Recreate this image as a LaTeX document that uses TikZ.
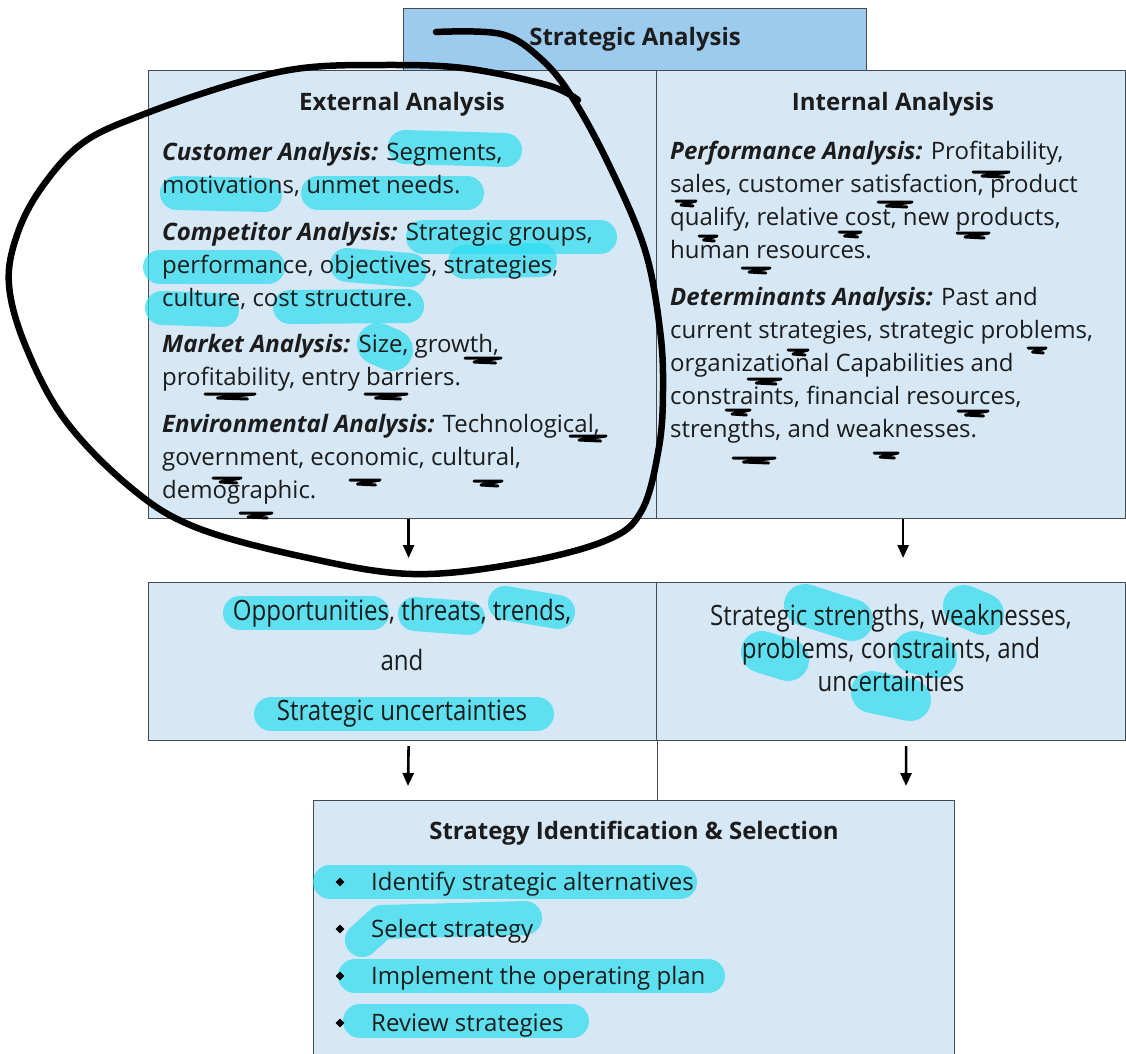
\documentclass[tikz,border=0pt]{standalone}
\usepackage{fontspec}
\setmainfont{Open Sans}
\newfontfamily\narrowfont[FakeStretch=0.86]{Open Sans}
\usetikzlibrary{arrows.meta,shapes.geometric}

\definecolor{boxblue}{RGB}{214,231,245}
\definecolor{headblue}{RGB}{157,203,238}
\definecolor{edgegray}{RGB}{70,74,80}
\definecolor{hlcyan}{RGB}{45,222,240}
\definecolor{txt}{RGB}{28,28,28}

\newcommand{\facet}[1]{\textbf{\textit{#1}}}

\tikzset{
  panel/.style={draw=edgegray, line width=1.2pt, fill=boxblue, anchor=north west, inner sep=0pt},
  headpanel/.style={panel, fill=headblue},
  title/.style={font=\fontsize{24}{28}\selectfont\bfseries, text=txt},
  para/.style={anchor=north west, align=left, inner sep=0pt, text=txt, font=\fontsize{24}{33}\selectfont},
  squeeze/.style={align=center, inner sep=0pt, text=txt, font=\narrowfont\fontsize{28}{#1}\selectfont},
  item/.style={anchor=base west, inner sep=0pt, text=txt, font=\fontsize{24}{28}\selectfont},
  bullet/.style={diamond, fill=black, inner sep=0pt, minimum size=9pt},
  flow/.style={-{Triangle[length=13pt,width=11pt]}, line width=2.6pt},
  hl/.style={draw=hlcyan, line width=#1, line cap=round, line join=round, opacity=0.7},
  hl/.default=34pt,
  ink/.style={line width=6.5pt, line cap=round, line join=round},
  scrib/.style={line width=3pt, line cap=round, line join=round}
}

\begin{document}
\begin{tikzpicture}[x=1pt,y=-1pt]
\useasboundingbox (0,0) rectangle (1126,1053);
\clip (0,0) rectangle (1126,1053);
\fill[white] (0,0) rectangle (1126,1053);

% boxes
\node[headpanel, minimum width=463pt, minimum height=62pt] (sa) at (403,8) {};
\node[panel, minimum width=508pt, minimum height=448pt] (ext) at (148,70) {};
\node[panel, minimum width=469pt, minimum height=448pt] (int) at (656,70) {};
\node[panel, minimum width=508pt, minimum height=158pt] (opp) at (148,582) {};
\node[panel, minimum width=469pt, minimum height=158pt] (wk) at (656,582) {};
\node[panel, minimum width=641pt, minimum height=265pt] (sel) at (313,800) {};

\draw[edgegray, line width=1.2pt] (opp.south east) -- (opp.south east |- sel.north);

% highlighter marks
\foreach \xa/\ya/\xb/\yb in {405/147/505/150, 177/193/265/195, 318/193/467/193,
    423/237/600/237, 160/267/268/267, 347/265/410/270, 465/262/540/260,
    162/308/222/310, 290/307/407/306,
    240/613/372/613, 415/614/468/618, 505/603/558/612, 271/714/537/714,
    330/882/680/882, 355/976/708/976, 360/1021/572/1021}
  \draw[hl] (\xa,\ya) -- (\xb,\yb);
\draw[hl] (362,940) -- (382,922) -- (525,918);
\foreach \xa/\ya/\xb/\yb in {378/344/392/350, 805/605/852/620, 964/606/983/614,
    762/652/788/660, 914/652/936/657, 872/692/910/700}
  \draw[hl=42pt] (\xa,\ya) -- (\xb,\yb);

% titles
\node[title] (satitle) at (sa.center) {Strategic Analysis};
\node[title] (exttitle) at (402,104) {External Analysis};
\node[title] (inttitle) at (893,104) {Internal Analysis};
\node[title] (seltitle) at (634,833) {Strategy Identification \& Selection};

% external analysis
\node[para] (cust) at (162,142) {\facet{Customer Analysis:} Segments,\\motivations, unmet needs.};
\node[para] (comp) at (162,222) {\facet{Competitor Analysis:} Strategic groups,\\performance, objectives, strategies,\\culture, cost structure.};
\node[para] (mkt) at (162,334) {\facet{Market Analysis:} Size, growth,\\profitability, entry barriers.};
\node[para] (env) at (162,414) {\facet{Environmental Analysis:} Technological,\\government, economic, cultural,\\demographic.};

% internal analysis
\node[para] (perf) at (670,141) {\facet{Performance Analysis:} Profitability,\\sales, customer satisfaction, product\\qualify, relative cost, new products,\\human resources.};
\node[para] (det) at (670,287) {\facet{Determinants Analysis:} Past and\\current strategies, strategic problems,\\organizational Capabilities and\\constraints, financial resources,\\strengths, and weaknesses.};

% outcomes
\node[squeeze=50pt] (opptext) at (402,663) {Opportunities, threats, trends,\\and\\Strategic uncertainties};
\node[squeeze=33pt] (wktext) at (891,648) {Strategic strengths, weaknesses,\\problems, constraints, and\\uncertainties};

% strategy list
\foreach \txt [count=\k] in {Identify strategic alternatives, Select strategy,
    Implement the operating plan, Review strategies} {
  \node[item] (step\k) at (371,843+47*\k) {\txt};
  \node[bullet] (dot\k) at (340,835+47*\k) {};
}

% arrows
\coordinate (oppdrop) at (408,786);
\coordinate (wkdrop) at (906,786);
\draw[flow] ([xshift=6pt]ext.south) -- ([xshift=6pt,yshift=24pt]opp.north);
\draw[flow] ([xshift=12pt]int.south) -- ([xshift=12pt,yshift=24pt]wk.north);
\draw[flow] ([xshift=6pt,yshift=-5pt]opp.south) -- (oppdrop);
\draw[flow] ([xshift=15pt,yshift=-5pt]wk.south) -- (wkdrop);

% pen annotations
\draw[ink] plot[smooth, tension=0.6] coordinates {(436,32) (501,34) (540,58) (572,97)
  (610,167) (645,250) (660,330) (663,390) (659,447) (642,510) (607,540) (520,563)
  (412,574) (304,557) (195,527) (130,487) (65,420) (26,347) (9,285) (17,235)
  (42,187) (84,142) (147,113) (236,83) (303,68) (379,65) (463,68) (547,85) (578,100)};
\foreach \sx/\sy/\sw in {465/358/36, 205/394/50, 365/394/42, 570/436/36, 213/478/28,
    350/480/30, 474/481/28, 240/513/32, 973/172/36, 676/201/20, 878/202/34,
    839/232/22, 957/233/32, 699/236/18, 742/268/28, 1028/348/18, 788/350/20,
    748/379/33, 726/410/24, 958/411/30, 733/458/42, 874/453/24}
  \draw[scrib] (\sx,\sy) -- ++(\sw,0) -- ++({-0.75*\sw},4) -- ++({0.6*\sw},1);
\end{tikzpicture}
\end{document}
